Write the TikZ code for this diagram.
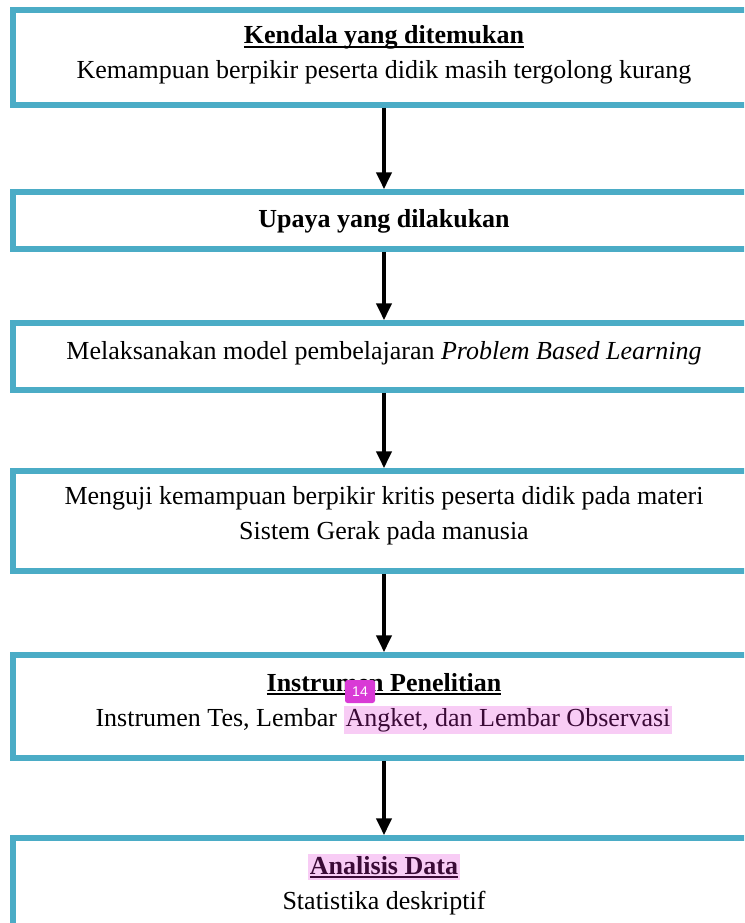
\documentclass[tikz,border=0pt]{standalone}
\usepackage{fontspec}
\setmainfont{Liberation Serif}
\newfontfamily\badgefont{Liberation Sans}
\usetikzlibrary{arrows.meta}
\definecolor{boxblue}{HTML}{4BACC6}
\definecolor{hlpink}{HTML}{F8CCF5}
\definecolor{hltext}{HTML}{3A0A36}
\definecolor{badgemag}{HTML}{D93AD6}
\newcommand{\hlmark}[1]{{\setlength{\fboxsep}{2pt}\colorbox{hlpink}{\color{hltext}#1}}}
\newcommand{\ulbold}[1]{\setbox0\hbox{\textbf{#1}}\rlap{\rule[-4pt]{\wd0}{1.8pt}}\box0}
\tikzset{
  flowbox/.style={draw=boxblue, line width=5.5pt, minimum width=742pt, inner sep=0pt},
  flowtext/.style={align=center, inner sep=0pt},
  flowarrow/.style={line width=4pt, -{Triangle[length=17pt,width=15pt]}},
  badge/.style={fill=badgemag, text=white, rounded corners=2.5pt, minimum width=30pt,
    minimum height=23pt, inner sep=0pt, font=\badgefont\fontsize{14}{14}\selectfont}
}
\begin{document}
\begin{tikzpicture}[x=1pt,y=-1pt]
                \useasboundingbox (0,0) rectangle (744,923);
                \clip (0,0) rectangle (744,923);
                {\fontsize{26}{35}\selectfont

                % Drawing box Kendala
                \node [flowbox, minimum height=95pt] (kendala) at (384,57.5) {};%
                \node [flowtext] (kendalatext) at (384,55)
                  {\ulbold{Kendala yang ditemukan}\\Kemampuan berpikir peserta didik masih tergolong kurang};%

                % Drawing box Upaya
                \node [flowbox, minimum height=57pt] (upaya) at (384,220.5) {};%
                \node [flowtext] (upayatext) at (384,221) {\textbf{Upaya yang dilakukan}};%

                % Drawing box Model
                \node [flowbox, minimum height=67pt] (model) at (384,356.5) {};%
                \node [flowtext] (modeltext) at (384,353.5)
                  {Melaksanakan model pembelajaran \textit{Problem Based Learning}};%

                % Drawing box Menguji
                \node [flowbox, minimum height=100pt] (menguji) at (384,521) {};%
                \node [flowtext] (mengujitext) at (384,516)
                  {Menguji kemampuan berpikir kritis peserta didik pada materi\\Sistem Gerak pada manusia};%

                % Drawing box Instrumen
                \node [flowbox, minimum height=103pt] (instrumen) at (384,706.5) {};%
                \node [flowtext] (instrumentext) at (384,703.5)
                  {\ulbold{Instrumen Penelitian}\\Instrumen Tes, Lembar \hlmark{Angket, dan Lembar Observasi}};%

                % Drawing box Analisis
                \node [flowbox, minimum height=102pt] (analisis) at (384,889) {};%
                \node [flowtext] (analisistext) at (384,884.5)
                  {\hlmark{\ulbold{Analisis Data}}\\Statistika deskriptif};%

                % Drawing arrows
                \draw [flowarrow] (kendala.south) -- (upaya.north);%
                \draw [flowarrow] (upaya.south) -- (model.north);%
                \draw [flowarrow] (model.south) -- (menguji.north);%
                \draw [flowarrow] (menguji.south) -- (instrumen.north);%
                \draw [flowarrow] (instrumen.south) -- (analisis.north);%

                % Marking comment badge
                \node [badge] (commentbadge) at (360,691.5) {14};%
                }
\end{tikzpicture}
\end{document}
